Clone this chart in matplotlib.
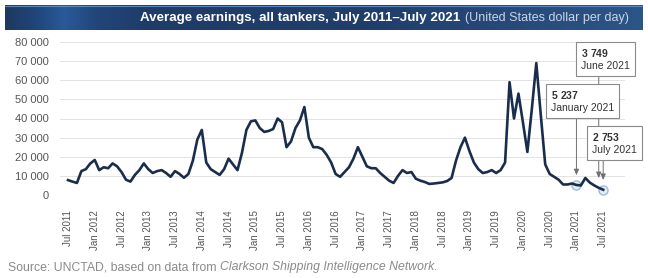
import matplotlib
matplotlib.use("Agg")
import matplotlib.pyplot as plt
import numpy as np
from matplotlib.colors import LinearSegmentedColormap

plt.rcParams['font.family'] = ['Liberation Sans', 'DejaVu Sans']
plt.rcParams['mathtext.fontset'] = 'custom'
plt.rcParams['mathtext.bf'] = 'Liberation Sans:bold'
plt.rcParams['mathtext.rm'] = 'Liberation Sans'

# monthly average earnings, Jul 2011 .. Jul 2021 (USD per day)
earnings = [
    7800, 7000, 6300, 12500, 13500, 16500, 18300, 13000, 14500, 14000, 16500, 15000,
    12000, 8000, 7000, 10500, 13000, 16500, 13500, 11500, 12500, 13000, 11500, 9500,
    12500, 11000, 9000, 11000, 18000, 29000, 34000, 17000, 13500, 12000, 10500, 13500,
    19000, 16000, 13000, 22000, 34000, 38500, 39000, 35000, 33000, 33500, 34500, 40000,
    38000, 25000, 28000, 35000, 39000, 46000, 30000, 25000, 25000, 24000, 21000, 17000,
    11000, 9500, 12000, 14500, 19000, 25000, 20000, 15000, 14000, 14000, 11500, 9500,
    7500, 6300, 10000, 13000, 11500, 12000, 8500, 7500, 6800, 5800, 6000, 6300,
    6600, 7300, 8900, 18000, 25000, 30000, 23000, 17000, 13500, 11500, 12000, 13000,
    11500, 13000, 17000, 59000, 40000, 53000, 38000, 22500, 45000, 69000, 42000, 16000,
    11000, 9500, 8000, 5500, 5500, 6000, 5237, 5000, 8900, 6500, 5000, 3749,
    2753,
]
months = np.arange(len(earnings))

tick_pos = list(range(0, 121, 6))
tick_labels = ["Jul 2011", "Jan 2012", "Jul 2012", "Jan 2013", "Jul 2013", "Jan 2014",
               "Jul 2014", "Jan 2015", "Jul 2015", "Jan 2016", "Jul 2016", "Jan 2017",
               "Jul 2017", "Jan 2018", "Jul 2018", "Jan 2019", "Jul 2019", "Jan 2020",
               "Jul 2020", "Jan 2021", "Jul 2021"]
y_ticks = list(range(0, 80001, 10000))

# callouts: month index, value label, month label, box left/top in pixels
callouts = [
    (119, "3 749", "June 2021", 577, 43),
    (114, "5 237", "January 2021", 547, 85),
    (120, "2 753", "July 2021", 588, 127),
]

W, H = 648, 278
fig = plt.figure(figsize=(W / 100, H / 100), dpi=100)
fig.patch.set_facecolor("white")

# title bar
bar = fig.add_axes([5 / W, 1 - 30 / H, 638 / W, 25 / H])
cmap = LinearSegmentedColormap.from_list("bar", [
    (0.0, "#1e3961"), (0.05, "#21477c"), (0.09, "#2a5a9a"), (0.14, "#22467a"),
    (0.22, "#1f3c68"), (0.6, "#223f6c"), (1.0, "#2c5588")])
bar.imshow(np.linspace(0, 1, 400)[None, :], aspect="auto", cmap=cmap,
           extent=[0, 1, 0, 1])
bar.axhline(0.97, color="#5a86bf", lw=0.8)
bar.set_axis_off()

t1 = fig.text(140 / W, 1 - 18 / H, "Average earnings, all tankers, July 2011\u2013July 2021",
              color="white", fontsize=9.6, fontweight="bold", va="center", ha="left")

# main axes
ax = fig.add_axes([60 / W, (H - 195) / H, (625 - 60) / W, (195 - 42) / H])
x0px, pxpm = 68, 4.46
ax.set_xlim((60 - x0px) / pxpm, (625 - x0px) / pxpm)
ax.set_ylim(0, 80000)
for s in ax.spines.values():
    s.set_visible(False)
ax.set_yticks(y_ticks)
ax.set_yticklabels([f"{v:,}".replace(",", " ") for v in y_ticks])
ax.set_xticks(tick_pos)
ax.set_xticklabels(tick_labels, rotation=90)
ax.tick_params(axis="y", length=0, pad=8, labelsize=8, labelcolor="#555555")
ax.tick_params(axis="x", length=0, pad=11, labelsize=7, labelcolor="#555555")
ax.yaxis.grid(True, color="#dedede", lw=0.6)
ax.set_axisbelow(True)

mark_idx = [114, 120]
ax.plot(mark_idx, [earnings[i] for i in mark_idx], "o", ms=6.5, mfc="#e6edf5",
        mec="#9fbbdc", mew=1, zorder=2, clip_on=False)
ax.plot(months, earnings, color="#1b2d4d", lw=1.9, zorder=3, clip_on=False,
        solid_joinstyle="round")

for m, val, lab, bx, by in callouts:
    ax.annotate("", xy=(m, earnings[m]), xycoords="data",
                xytext=(m, H - (by + 31)), textcoords=("data", "figure pixels"),
                arrowprops=dict(arrowstyle="-|>,head_length=0.35,head_width=0.15",
                                color="#707070", lw=0.7, shrinkA=0, shrinkB=7),
                zorder=1)
    fig.text((bx + 4) / W, 1 - (by + 4) / H,
             r"$\mathbf{" + val.replace(" ", r"\ ") + "}$\n" + lab,
             fontsize=7.5, color="#333333", ha="left", va="top", linespacing=1.25,
             bbox=dict(boxstyle="square,pad=0.45", fc="white", ec="#8a8a8a", lw=0.8),
             zorder=5)

# subtitle next to title
fig.canvas.draw()
bb = t1.get_window_extent()
fig.text((bb.x1 + 5) / W, 1 - 18 / H, "(United States dollar per day)",
         color="#c9d5e8", fontsize=9, va="center", ha="left")

s1 = fig.text(8 / W, 1 - 267 / H, "Source: UNCTAD, based on data from ",
              color="#8a8a8a", fontsize=8.8, va="center", ha="left")
fig.canvas.draw()
bb = s1.get_window_extent()
fig.text(bb.x1 / W, 1 - 267 / H, "Clarkson Shipping Intelligence Network.",
         color="#8a8a8a", fontsize=8.8, va="center", ha="left", style="italic")

fig.savefig("out.png", dpi=100)
